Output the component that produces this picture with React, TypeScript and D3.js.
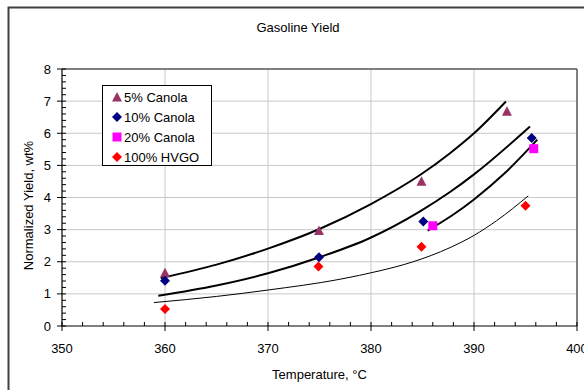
import React from "react";
import * as d3 from "d3";

const xTicks = [350, 360, 370, 380, 390, 400];
const yTicks = [0, 1, 2, 3, 4, 5, 6, 7, 8];

const canola5 = [
  { t: 360, y: 1.64 },
  { t: 374.95, y: 2.96 },
  { t: 384.9, y: 4.49 },
  { t: 393.2, y: 6.67 },
];
const canola10 = [
  { t: 360, y: 1.41 },
  { t: 374.95, y: 2.14 },
  { t: 385.08, y: 3.25 },
  { t: 395.6, y: 5.85 },
];
const canola20 = [
  { t: 386.0, y: 3.12 },
  { t: 395.8, y: 5.52 },
];
const hvgo = [
  { t: 360, y: 0.53 },
  { t: 374.9, y: 1.85 },
  { t: 384.9, y: 2.47 },
  { t: 395.0, y: 3.74 },
];

// trend lines
const trend5 = [
  { t: 359.58, y: 1.49 },
  { t: 365, y: 1.91 },
  { t: 370, y: 2.41 },
  { t: 375, y: 3.02 },
  { t: 379.9, y: 3.78 },
  { t: 384.76, y: 4.7 },
  { t: 387.67, y: 5.38 },
  { t: 390, y: 6.0 },
  { t: 393.1, y: 6.99 },
];
const trend10 = [
  { t: 359.35, y: 0.94 },
  { t: 365, y: 1.26 },
  { t: 370, y: 1.64 },
  { t: 375, y: 2.14 },
  { t: 379.9, y: 2.74 },
  { t: 384.76, y: 3.57 },
  { t: 387.67, y: 4.17 },
  { t: 390, y: 4.72 },
  { t: 395.44, y: 6.21 },
];
const trend20 = [
  { t: 385.5, y: 2.97 },
  { t: 388, y: 3.47 },
  { t: 390, y: 3.94 },
  { t: 393, y: 4.76 },
  { t: 396.15, y: 5.8 },
];
const trendHvgo = [
  { t: 358.93, y: 0.73 },
  { t: 365, y: 0.92 },
  { t: 370, y: 1.12 },
  { t: 376.9, y: 1.45 },
  { t: 380.87, y: 1.72 },
  { t: 384, y: 1.99 },
  { t: 387.67, y: 2.44 },
  { t: 390, y: 2.82 },
  { t: 392.2, y: 3.28 },
  { t: 395.27, y: 4.05 },
];

const legendLabels = ["5% Canola", "10% Canola", "20% Canola", "100% HVGO"];

const FONT = "'Liberation Sans', Arial, sans-serif";

export default function App() {
  const x = d3.scaleLinear().domain([350, 400]).range([62, 577]);
  const y = d3.scaleLinear().domain([0, 8]).range([326, 69]);
  const line = d3
    .line<{ t: number; y: number }>()
    .x((d) => x(d.t))
    .y((d) => y(d.y))
    .curve(d3.curveMonotoneX);

  const xMinor = d3.range(350, 400.01, 2);
  const yMinor = d3.range(0, 8.001, 0.2);

  const tri = (cx: number, cy: number, key: string) => (
    <path key={key} d={`M${cx},${cy - 5.5}L${cx + 5},${cy + 4}L${cx - 5},${cy + 4}Z`} fill="#993366" />
  );
  const dia = (cx: number, cy: number, fill: string, key: string) => (
    <path key={key} d={`M${cx},${cy - 5}L${cx + 5},${cy}L${cx},${cy + 5}L${cx - 5},${cy}Z`} fill={fill} />
  );
  const sq = (cx: number, cy: number, key: string) => (
    <rect key={key} x={cx - 4.5} y={cy - 4.5} width={9} height={9} fill="#FF00FF" />
  );

  const legendRows = [97.5, 117, 137, 157];

  return (
    <svg width={584} height={390} style={{ position: "absolute", left: 0, top: 0 }} fontFamily={FONT}>
      <rect x={0} y={0} width={584} height={390} fill="#fff" />
      <rect x={8.5} y={7.5} width={620} height={420} fill="none" stroke="#404040" strokeWidth={2} />
      <text x={298} y={32} textAnchor="middle" fontSize={13}>
        Gasoline Yield
      </text>

      {/* gridlines */}
      {xTicks.slice(1, -1).map((t) => (
        <line key={"gx" + t} x1={x(t)} x2={x(t)} y1={y(8)} y2={y(0)} stroke="#c8c8c8" strokeWidth={1} />
      ))}
      {yTicks.slice(1, -1).map((v) => (
        <line key={"gy" + v} x1={x(350)} x2={x(400)} y1={y(v)} y2={y(v)} stroke="#c8c8c8" strokeWidth={1} />
      ))}
      {/* plot border top/right */}
      <line x1={x(350)} x2={x(400)} y1={y(8)} y2={y(8)} stroke="#555" strokeWidth={1.5} />
      <line x1={x(400)} x2={x(400)} y1={y(8)} y2={y(0)} stroke="#555" strokeWidth={1.5} />

      {/* axes */}
      <line x1={x(350)} x2={x(400)} y1={y(0)} y2={y(0)} stroke="#000" strokeWidth={1.2} />
      <line x1={x(350)} x2={x(350)} y1={y(0)} y2={y(8)} stroke="#000" strokeWidth={1.2} />
      {xMinor.map((t) => (
        <line key={"xm" + t} x1={x(t)} x2={x(t)} y1={y(0)} y2={y(0) - 4} stroke="#000" />
      ))}
      {xTicks.map((t) => (
        <g key={"xt" + t}>
          <line x1={x(t)} x2={x(t)} y1={y(0)} y2={y(0) + 5} stroke="#000" />
          <text x={x(t)} y={353} textAnchor="middle" fontSize={13}>
            {t}
          </text>
        </g>
      ))}
      {yMinor.map((v) => (
        <line key={"ym" + v} x1={x(350)} x2={x(350) + 4} y1={y(v)} y2={y(v)} stroke="#000" />
      ))}
      {yTicks.map((v) => (
        <g key={"yt" + v}>
          <line x1={x(350) - 5} x2={x(350)} y1={y(v)} y2={y(v)} stroke="#000" />
          <text x={51} y={y(v) + 4.5} textAnchor="end" fontSize={13}>
            {v}
          </text>
        </g>
      ))}
      <text x={x(375)} y={379} textAnchor="middle" fontSize={13}>
        Temperature, °C
      </text>
      <text transform={`translate(33,${(y(0) + y(8)) / 2 + 8}) rotate(-90)`} textAnchor="middle" fontSize={13}>
        Normalized Yield, wt%
      </text>

      {/* trend lines */}
      <path d={line(trend5) || ""} fill="none" stroke="#000" strokeWidth={2} />
      <path d={line(trend10) || ""} fill="none" stroke="#000" strokeWidth={2} />
      <path d={line(trend20) || ""} fill="none" stroke="#000" strokeWidth={2} />
      <path d={line(trendHvgo) || ""} fill="none" stroke="#000" strokeWidth={1} />

      {/* markers */}
      {canola5.map((d, i) => tri(x(d.t), y(d.y), "c5" + i))}
      {canola10.map((d, i) => dia(x(d.t), y(d.y), "#000080", "c10" + i))}
      {canola20.map((d, i) => sq(x(d.t), y(d.y), "c20" + i))}
      {hvgo.map((d, i) => dia(x(d.t), y(d.y), "#FF0000", "hv" + i))}

      {/* legend */}
      <rect x={102.5} y={85.5} width={109} height={80} fill="#fff" stroke="#000" strokeWidth={1} />
      {tri(117, legendRows[0], "l0")}
      {dia(117, legendRows[1], "#000080", "l1")}
      {sq(117, legendRows[2], "l2")}
      {dia(117, legendRows[3], "#FF0000", "l3")}
      {legendLabels.map((s, i) => (
        <text key={s} x={124} y={legendRows[i] + 4.5} fontSize={13}>
          {s}
        </text>
      ))}
    </svg>
  );
}
